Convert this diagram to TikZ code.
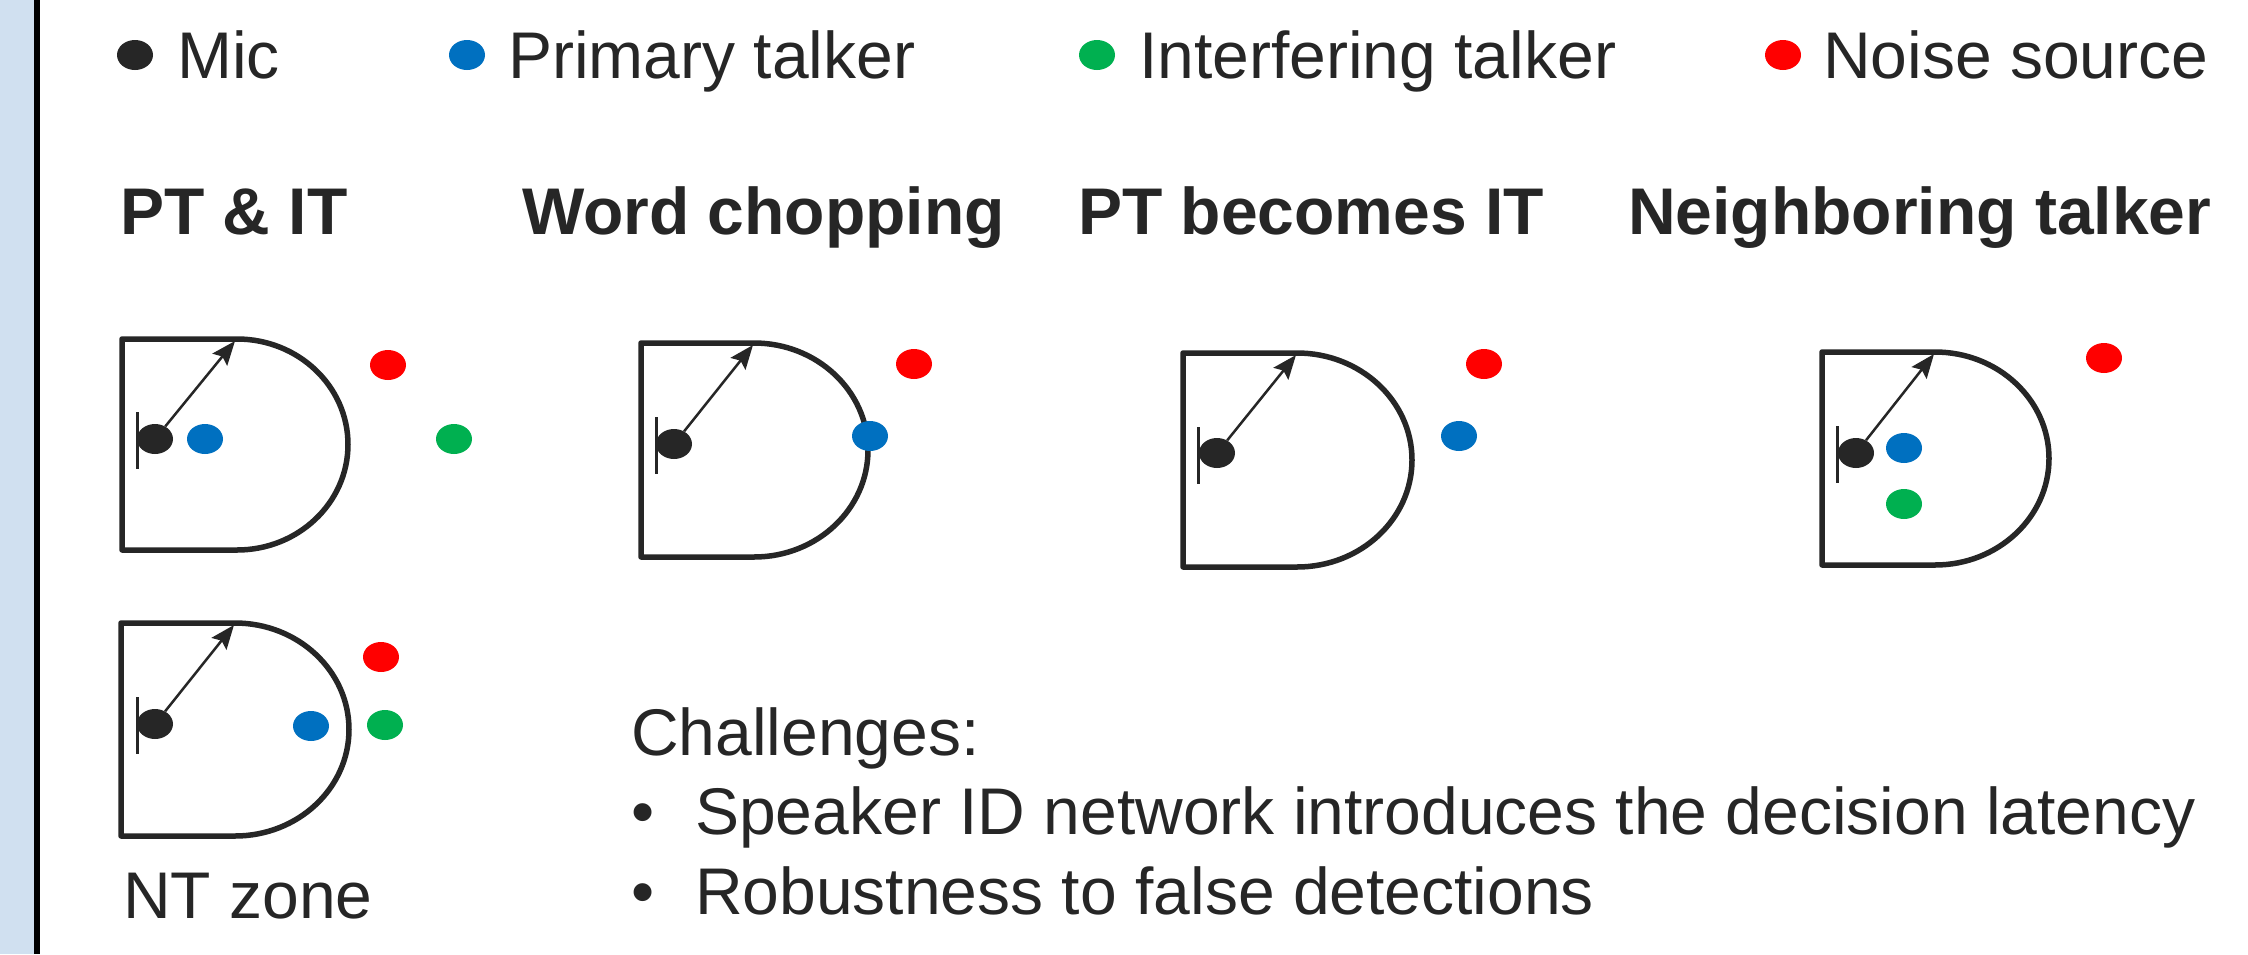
\documentclass[tikz,border=0pt]{standalone}
\usepackage{fontspec}
\setmainfont{Liberation Sans}
\usetikzlibrary{shapes.geometric,arrows.meta}
\definecolor{ink}{HTML}{262626}
\definecolor{pblue}{HTML}{0070C0}
\definecolor{igreen}{HTML}{00B050}
\definecolor{nred}{HTML}{FF0000}
\definecolor{band}{HTML}{D0E0F0}
\tikzset{
  dot/.style={ellipse, minimum width=36pt, minimum height=30pt, inner sep=0pt, draw=none},
  micdot/.style={dot, fill=ink},
  ptdot/.style={dot, fill=pblue},
  itdot/.style={dot, fill=igreen},
  nsdot/.style={dot, fill=nred},
  zone/.style={draw=ink, line width=5.5pt, line join=round},
  bar/.style={draw=ink, line width=3pt},
  arr/.style={draw=ink, line width=2.5pt, -{Stealth[length=24pt,width=19pt,inset=4pt]}},
  lbl/.style={anchor=base west, inner sep=0pt, text=ink, font=\fontsize{66}{79}\selectfont},
  ttl/.style={lbl, font=\fontsize{66}{79}\selectfont\bfseries},
}
% D shaped zone: #1 left, #2 top, #3 end of straight part, #4 right, #5 bottom
\newcommand\dzone[5]{%
  \draw[zone] (#1,#2) -- (#3,#2)
    .. controls ({#3+0.5523*(#4-#3)},#2) and (#4,{(#2+#5)/2-0.5523*(#5-#2)/2}) .. (#4,{(#2+#5)/2})
    .. controls (#4,{(#2+#5)/2+0.5523*(#5-#2)/2}) and ({#3+0.5523*(#4-#3)},#5) .. (#3,#5)
    -- (#1,#5) -- cycle;}
\begin{document}
\begin{tikzpicture}[x=1pt,y=-1pt]
\useasboundingbox (0,0) rectangle (2248,954);
\fill[white] (0,0) rectangle (2248,954);
% left band
\fill[band] (0,0) rectangle (34,954);
\fill[black] (34,0) rectangle (40,954);

% legend
\node[micdot] (lm) at (135,55) {};
\node[lbl] (lmt) at (177,78) {Mic};
\node[ptdot] (lp) at (467,55) {};
\node[lbl] (lpt) at (508,78) {Primary talker};
\node[itdot] (li) at (1097,55) {};
\node[lbl] (lit) at (1139,78) {Interfering talker};
\node[nsdot] (ln) at (1783,55) {};
\node[lbl] (lnt) at (1823,78) {Noise source};

% titles
\node[ttl] (t1) at (120,234) {PT \& IT};
\node[ttl] (t2) at (522,234) {Word chopping};
\node[ttl] (t3) at (1078,234) {PT becomes IT};
\node[ttl] (t4) at (1628,234) {Neighboring talker};

% panel 1: PT & IT
\dzone{122}{339}{237}{348}{550}
\draw[bar] (137,412) -- (137,469);
\node[micdot] (m1) at (155,439) {};
\node[ptdot] (p1) at (205,439) {};
\node[nsdot] (n1) at (388,365) {};
\node[itdot] (i1) at (454,439) {};
\coordinate (c1) at (235,341);
\draw[arr] (m1) -- (c1);

% panel 2: NT zone
\dzone{121}{623}{235}{349}{836}
\draw[bar] (137,697) -- (137,754);
\node[micdot] (m2) at (155,724) {};
\node[ptdot] (p2) at (311,726) {};
\node[nsdot] (n2) at (381,657) {};
\node[itdot] (i2) at (385,725) {};
\coordinate (c2) at (234,625);
\draw[arr] (m2) -- (c2);
\node[lbl] (nt) at (123,918) {NT zone};

% panel 3: Word chopping
\dzone{641}{343}{754}{868}{557}
\draw[bar] (656,417) -- (656,474);
\node[micdot] (m3) at (674,444) {};
\node[ptdot] (p3) at (870,436) {};
\node[nsdot] (n3) at (914,364) {};
\coordinate (c3) at (753,345);
\draw[arr] (m3) -- (c3);

% panel 4: PT becomes IT
\dzone{1183}{353}{1297}{1412}{567}
\draw[bar] (1198,427) -- (1198,484);
\node[micdot] (m4) at (1217,453) {};
\node[ptdot] (p4) at (1459,436) {};
\node[nsdot] (n4) at (1484,364) {};
\coordinate (c4) at (1296,355);
\draw[arr] (m4) -- (c4);

% panel 5: Neighboring talker
\dzone{1822}{352}{1935}{2049}{565}
\draw[bar] (1837,426) -- (1837,483);
\node[micdot] (m5) at (1856,453) {};
\node[ptdot] (p5) at (1904,448) {};
\node[itdot] (i5) at (1904,504) {};
\node[nsdot] (n5) at (2104,358) {};
\coordinate (c5) at (1934,354);
\draw[arr] (m5) -- (c5);

% challenges
\node[lbl] (ch) at (631,755) {Challenges:};
\node[lbl] (b1) at (631,834) {\textbullet};
\node[lbl] (x1) at (695,834) {Speaker ID network introduces the decision latency};
\node[lbl] (b2) at (631,914) {\textbullet};
\node[lbl] (x2) at (695,914) {Robustness to false detections};
\end{tikzpicture}
\end{document}
